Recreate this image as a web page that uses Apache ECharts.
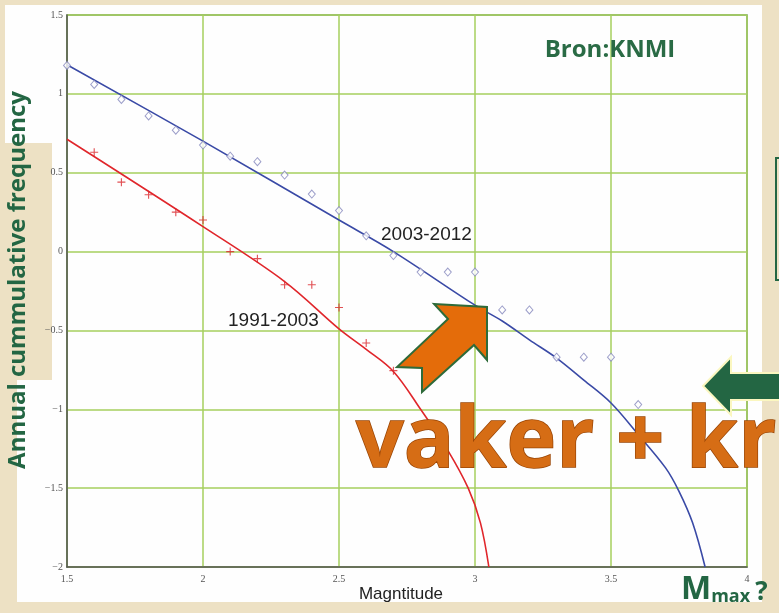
<!DOCTYPE html>
<html>
<head>
<meta charset="utf-8">
<script src="https://cdn.jsdelivr.net/npm/echarts@6/dist/echarts.min.js"></script>
<style>
  html, body { margin: 0; padding: 0; background: #ede1c4; }
  #chart { width: 779px; height: 613px; }
</style>
</head>
<body>
<div id="chart"></div>
<script>
var myChart = echarts.init(document.getElementById('chart'));

// observed points 2003-2012 (diamonds)
var obsNewM = [1.5, 1.6, 1.7, 1.8, 1.9, 2.0, 2.1, 2.2, 2.3, 2.4, 2.5, 2.6, 2.7, 2.8, 2.9, 3.0, 3.1, 3.2, 3.3, 3.4, 3.5, 3.6];
var obsNewV = [1.18, 1.06, 0.965, 0.86, 0.77, 0.675, 0.605, 0.57, 0.485, 0.365, 0.26, 0.10, -0.025, -0.13, -0.13, -0.13, -0.37, -0.37, -0.67, -0.67, -0.67, -0.97];

// observed points 1991-2003 (crosses)
var obsOldM = [1.6, 1.7, 1.8, 1.9, 2.0, 2.1, 2.2, 2.3, 2.4, 2.5, 2.6, 2.7];
var obsOldV = [0.63, 0.44, 0.36, 0.25, 0.20, 0.0, -0.045, -0.21, -0.21, -0.355, -0.58, -0.755];

// fitted curves
var fitNewM = [1.5, 2.0, 2.5, 2.7, 3.0, 3.1, 3.2, 3.3, 3.4, 3.5, 3.6, 3.7, 3.75, 3.8, 3.846];
var fitNewV = [1.185, 0.70, 0.20, 0.0, -0.34, -0.44, -0.56, -0.675, -0.815, -0.96, -1.16, -1.37, -1.52, -1.72, -2.0];
var fitOldM = [1.5, 2.0, 2.3, 2.5, 2.6, 2.7, 2.8, 2.9, 2.975, 3.02, 3.051];
var fitOldV = [0.712, 0.158, -0.19, -0.49, -0.62, -0.76, -1.0, -1.26, -1.5, -1.72, -2.0];

var zip = function (xs, ys) {
    var res = [];
    for (var i = 0; i < xs.length; i++) res.push([xs[i], ys[i]]);
    return res;
};

var green = '#236643';
var plusPath = 'path://M4.3,0H5.7V4.3H10V5.7H5.7V10H4.3V5.7H0V4.3H4.3Z';

option = {
    backgroundColor: '#ede1c4',
    animation: false,
    grid: {
        left: 67, right: 32, top: 15, bottom: 46,
        show: true,
        borderColor: '#6d8f5c',
        borderWidth: 1.5
    },
    xAxis: {
        type: 'value',
        min: 1.5, max: 4, interval: 0.5,
        axisLine: { onZero: false, lineStyle: { color: '#555', width: 1.5 } },
        axisTick: { show: false },
        axisLabel: { color: '#555', fontFamily: 'Liberation Serif', fontSize: 10, margin: 7 },
        splitLine: { lineStyle: { color: '#a6cf5e', width: 1.5 } }
    },
    yAxis: {
        type: 'value',
        min: -2, max: 1.5, interval: 0.5,
        axisLine: { onZero: false, lineStyle: { color: '#555', width: 1.5 } },
        axisTick: { show: false },
        axisLabel: {
            color: '#555', fontFamily: 'Liberation Serif', fontSize: 10, margin: 4,
            formatter: function (v) { return v < 0 ? '\u2212' + Math.abs(v) : String(v); }
        },
        splitLine: { lineStyle: { color: '#a6cf5e', width: 1.5 } }
    },
    graphic: [
        // white screenshot panel
        { type: 'rect', z: -10, shape: { x: 5, y: 5, width: 757, height: 597 }, style: { fill: '#fefefe' } },
        { type: 'rect', z: -9, shape: { x: 5, y: 143, width: 47, height: 237 }, style: { fill: '#ede1c4' } },
        { type: 'rect', z: -9, shape: { x: 5, y: 380, width: 12, height: 222 }, style: { fill: '#ede1c4' } },
        // right text box edge
        { type: 'rect', z: 50, shape: { x: 776, y: 158, width: 20, height: 122 }, style: { fill: 'none', stroke: green, lineWidth: 2 } },
        {
            type: 'text', z: 50, x: 18, y: 280, rotation: Math.PI / 2,
            style: { text: 'Annual cummulative frequency', fill: green, font: 'bold 24px "Open Sans"', align: 'center', verticalAlign: 'middle' }
        },
        {
            type: 'text', z: 50, x: 610, y: 50,
            style: { text: 'Bron:KNMI', fill: '#2a6b45', font: 'bold 24px "Open Sans"', align: 'center', verticalAlign: 'middle' }
        },
        {
            type: 'text', z: 50, x: 401, y: 594,
            style: { text: 'Magntitude', fill: '#222', font: '17px "Liberation Sans"', align: 'center', verticalAlign: 'middle' }
        },
        {
            type: 'text', z: 50, x: 381, y: 235,
            style: { text: '2003-2012', fill: '#222', font: '19px "Liberation Sans"', align: 'left', verticalAlign: 'middle' }
        },
        {
            type: 'text', z: 50, x: 228, y: 321,
            style: { text: '1991-2003', fill: '#222', font: '19px "Liberation Sans"', align: 'left', verticalAlign: 'middle' }
        },
        // orange arrow
        {
            type: 'polygon', z: 60,
            shape: { points: [[434, 304], [487, 307], [487, 360], [474, 345], [422, 392], [422, 368], [397, 367], [448, 319]] },
            style: { fill: '#e46c0a', stroke: '#2e6b3a', lineWidth: 2 }
        },
        // green arrow
        {
            type: 'polygon', z: 60,
            shape: { points: [[703, 386], [731, 357], [731, 373], [790, 373], [790, 400], [731, 400], [731, 415]] },
            style: { fill: green, stroke: '#fbf7c0', lineWidth: 2 }
        },
        // big overlay text
        {
            type: 'text', z: 70, x: 356, y: 443,
            style: {
                text: 'vaker + kra',
                font: 'bold 84px "Open Sans"',
                align: 'left', verticalAlign: 'middle',
                fill: '#d66d15',
                stroke: '#9a4606', lineWidth: 1.5,
                shadowBlur: 3, shadowColor: 'rgba(60,20,0,0.45)', shadowOffsetX: 2, shadowOffsetY: 2
            }
        },
        {
            type: 'text', z: 70, x: 681, y: 606,
            style: {
                text: '{m|M}{s|max}{q|?}',
                align: 'left', verticalAlign: 'bottom',
                rich: {
                    m: { font: 'bold 32px "Open Sans"', fill: green, verticalAlign: 'bottom' },
                    s: { font: 'bold 18px "Open Sans"', fill: green, verticalAlign: 'bottom' },
                    q: { font: 'bold 26px "Open Sans"', fill: green, verticalAlign: 'bottom', padding: [0, 0, 0, 5] }
                }
            }
        }
    ],
    series: [
        {
            name: 'fit 2003-2012',
            type: 'line',
            data: zip(fitNewM, fitNewV),
            showSymbol: false,
            smooth: 0.35,
            lineStyle: { color: '#3a4aa6', width: 1.6 },
            z: 3
        },
        {
            name: 'fit 1991-2003',
            type: 'line',
            data: zip(fitOldM, fitOldV),
            showSymbol: false,
            smooth: 0.35,
            lineStyle: { color: '#e0262b', width: 1.6 },
            z: 3
        },
        {
            name: '2003-2012',
            type: 'scatter',
            data: zip(obsNewM, obsNewV),
            symbol: 'diamond',
            symbolSize: [7, 8],
            itemStyle: { color: '#fff', borderColor: '#8587bd', borderWidth: 1 },
            z: 4
        },
        {
            name: '1991-2003',
            type: 'scatter',
            data: zip(obsOldM, obsOldV),
            symbol: plusPath,
            symbolSize: 8,
            itemStyle: { color: '#d9252a' },
            z: 4
        }
    ]
};
myChart.setOption(option);
</script>
</body>
</html>
